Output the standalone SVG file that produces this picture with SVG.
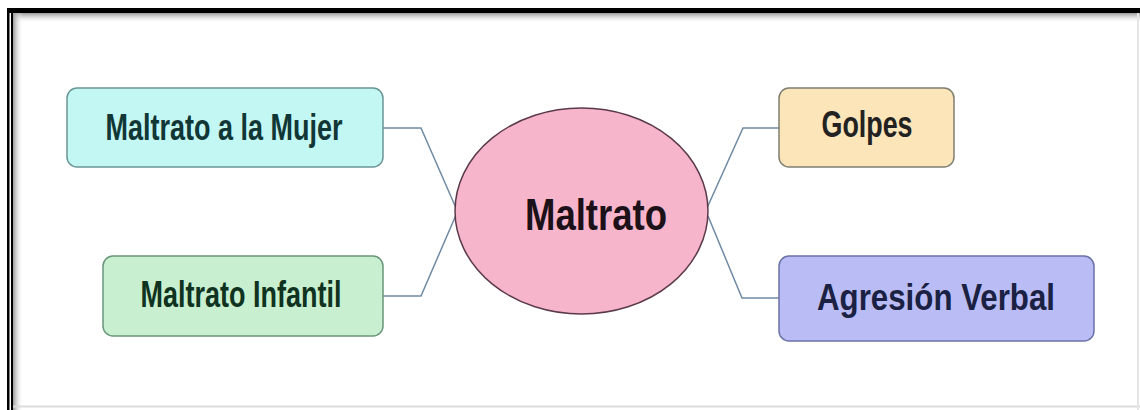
<svg xmlns="http://www.w3.org/2000/svg" width="1140" height="410" viewBox="0 0 1140 410">
<defs>
<linearGradient id="shTop" x1="0" y1="0" x2="0" y2="1">
<stop offset="0" stop-color="#9a9a9a"/><stop offset="1" stop-color="#ffffff" stop-opacity="0"/>
</linearGradient>
<linearGradient id="shLeft" x1="0" y1="0" x2="1" y2="0">
<stop offset="0" stop-color="#9a9a9a"/><stop offset="1" stop-color="#ffffff" stop-opacity="0"/>
</linearGradient>
</defs>
<style>
.box{stroke-width:1.5}
.lbl{font-family:"Liberation Sans",Arial,sans-serif;font-weight:bold;text-anchor:middle}
.conn{fill:none;stroke:#6f8aa3;stroke-width:1.5}
</style>
<rect x="0" y="0" width="1140" height="410" fill="#ffffff"/>
<g id="frame">
<rect x="13" y="13" width="1127" height="10" fill="url(#shTop)"/>
<rect x="13" y="13" width="10" height="397" fill="url(#shLeft)"/>
<rect x="8" y="8" width="1132" height="5" fill="#000000"/>
<rect x="7" y="8" width="2.5" height="402" fill="#000000"/>
<rect x="11" y="8" width="2" height="402" fill="#000000"/>
<line x1="13" y1="406.5" x2="1140" y2="406.5" stroke="#dcdcdc" stroke-width="2"/>
<line x1="1138" y1="13" x2="1138" y2="410" stroke="#e6e6e6" stroke-width="2"/>
</g>
<g id="connectors">
<polyline class="conn" points="383,128 421,128 456,208"/>
<polyline class="conn" points="456,215 421,296 383,296"/>
<polyline class="conn" points="707,208 743,128 779,128"/>
<polyline class="conn" points="708,216 742,298 779,298"/>
</g>
<g id="node-maltrato">
<ellipse cx="581.5" cy="211" rx="126.5" ry="103" fill="#f7b5cb" stroke="#5a3a4a" stroke-width="1.5"/>
<text class="lbl" x="596" y="230" font-size="44" fill="#1c1118" textLength="142" lengthAdjust="spacingAndGlyphs">Maltrato</text>
</g>
<g id="node-mujer">
<rect class="box" x="67" y="88" width="316" height="79" rx="10" fill="#c3f7f3" stroke="#6a9696"/>
<text class="lbl" x="224" y="140" font-size="37" fill="#113636" textLength="237" lengthAdjust="spacingAndGlyphs">Maltrato a la Mujer</text>
</g>
<g id="node-infantil">
<rect class="box" x="103" y="256" width="280" height="80" rx="10" fill="#c8f0d0" stroke="#6a967a"/>
<text class="lbl" x="241" y="307" font-size="37" fill="#0f3320" textLength="201" lengthAdjust="spacingAndGlyphs">Maltrato Infantil</text>
</g>
<g id="node-golpes">
<rect class="box" x="779" y="88" width="175" height="79" rx="10" fill="#fce5b9" stroke="#7f7f72"/>
<text class="lbl" x="867" y="137" font-size="36" fill="#222222" textLength="91" lengthAdjust="spacingAndGlyphs">Golpes</text>
</g>
<g id="node-agresion">
<rect class="box" x="779" y="256" width="315" height="85" rx="10" fill="#b9bcf5" stroke="#6a72a8"/>
<text class="lbl" x="936" y="310" font-size="37" fill="#1b2142" textLength="238" lengthAdjust="spacingAndGlyphs">Agresión Verbal</text>
</g>
</svg>
